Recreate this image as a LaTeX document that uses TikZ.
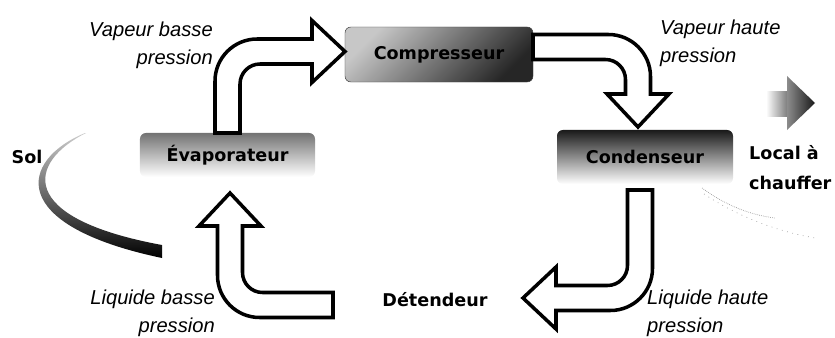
\documentclass[tikz,border=0pt]{standalone}
\usepackage{fontspec}
\setmainfont{Liberation Sans}
\newfontfamily\nomfont{DejaVu Sans}
\usetikzlibrary{calc}

\tikzset{
  organe/.style={rounded corners=5pt,inner sep=0pt,
                 font=\nomfont\bfseries\fontsize{15}{18}\selectfont},
  fleche/.style={draw=black,fill=white,line width=3pt,line join=miter},
  legende/.style={inner sep=0pt,font=\itshape\fontsize{17.2}{24}\selectfont},
  etiquette/.style={inner sep=0pt,
                 font=\nomfont\bfseries\fontsize{15}{25.5}\selectfont},
}

% grosse fleche coudee : #1 = bras d'entree, #2 = bras de sortie
\newcommand{\flechecoude}[2]{%
  \draw[fleche] (-12.5,#1) -- (-12.5,29.5)
    .. controls (-12.5,6.4) and (6.4,-12.5) .. (29.5,-12.5)
    -- (#2-33,-12.5) -- (#2-33,-31) -- (#2,0) -- (#2-33,31) -- (#2-33,12.5)
    -- (32.5,12.5) .. controls (21.5,12.5) and (12.5,21.5) .. (12.5,32.5)
    -- (12.5,#1) -- cycle;}

\begin{document}
\begin{tikzpicture}[x=0.03cm,y=-0.03cm]
  \useasboundingbox (0,0) rectangle (835,338);

  % ── organes ─────────────────────────────────────────
  \node[organe,draw=black!75,top color=black!22,bottom color=black!85,
        shading angle=45,minimum width=5.64cm,minimum height=1.65cm]
        (comp) at (439,54.5){Compresseur};
  \node[organe,top color=black!90,bottom color=white,
        minimum width=5.28cm,minimum height=1.62cm]
        (cond) at (645,157){Condenseur};
  \node[organe,top color=black!55,bottom color=white,
        minimum width=5.25cm,minimum height=1.32cm]
        (evap) at (227.5,155){Évaporateur};
  \node[etiquette] (det) at (435,300){Détendeur};

  % ── sources ─────────────────────────────────────────
  \node[etiquette] (sol) at (27,157){Sol};
  \node[etiquette,align=left,anchor=west] (local) at (749,168){Local à\\chauffer};

  \shade[top color=black!20,bottom color=black]
    (85,133) .. controls (20,160) and (5,225) .. (162,258)
    -- (162,245) .. controls (15,218) and (28,162) .. (86,133) -- cycle;

  \shade[left color=white,right color=black!55] (766,92) rectangle (789,116);
  \shade[left color=black!45,right color=black!90]
    (787,76) -- (815,103) -- (787,130) -- cycle;
  \draw[black!40,densely dotted,line width=0.6pt]
    (702,188) .. controls (725,205) and (750,215) .. (775,218);
  \draw[black!40,loosely dotted,line width=0.6pt]
    (704,194) .. controls (740,218) and (780,232) .. (815,238);

  % ── fluide ──────────────────────────────────────────
  \coordinate (a1s) at (evap.north);
  \coordinate (a1t) at ($(comp.west)+(0,-3)$);
  \begin{scope}[shift={(a1s |- a1t)}]
    \flechecoude{81.5}{117.5}
  \end{scope}

  \coordinate (a2s) at ($(comp.east)+(0,-7.5)$);
  \coordinate (a2t) at ($(cond.north)+(-7,-3)$);
  \begin{scope}[shift={(a2t |- a2s)},rotate=-90]
    \flechecoude{105}{80}
  \end{scope}

  \coordinate (a3s) at ($(cond.south)+(-5,6)$);
  \coordinate (a3t) at ($(det.east)+(36,-2)$);
  \begin{scope}[shift={(a3s |- a3t)},rotate=180]
    \flechecoude{108}{117}
  \end{scope}

  \coordinate (a4s) at ($(det.west)+(-50,5)$);
  \coordinate (a4t) at ($(evap.south)+(2.5,16)$);
  \begin{scope}[shift={(a4t |- a4s)},rotate=90]
    \flechecoude{103}{112}
  \end{scope}

  % ── etats du fluide ─────────────────────────────────
  \node[legende,align=right,anchor=east] (vbp) at (213,45){Vapeur basse\\pression};
  \node[legende,align=left,anchor=west] (vhp) at (660,43){Vapeur haute\\pression};
  \node[legende,align=right,anchor=east] (lbp) at (215,313){Liquide basse\\pression};
  \node[legende,align=left,anchor=west] (lhp) at (647,313){Liquide haute\\pression};

\end{tikzpicture}
\end{document}
